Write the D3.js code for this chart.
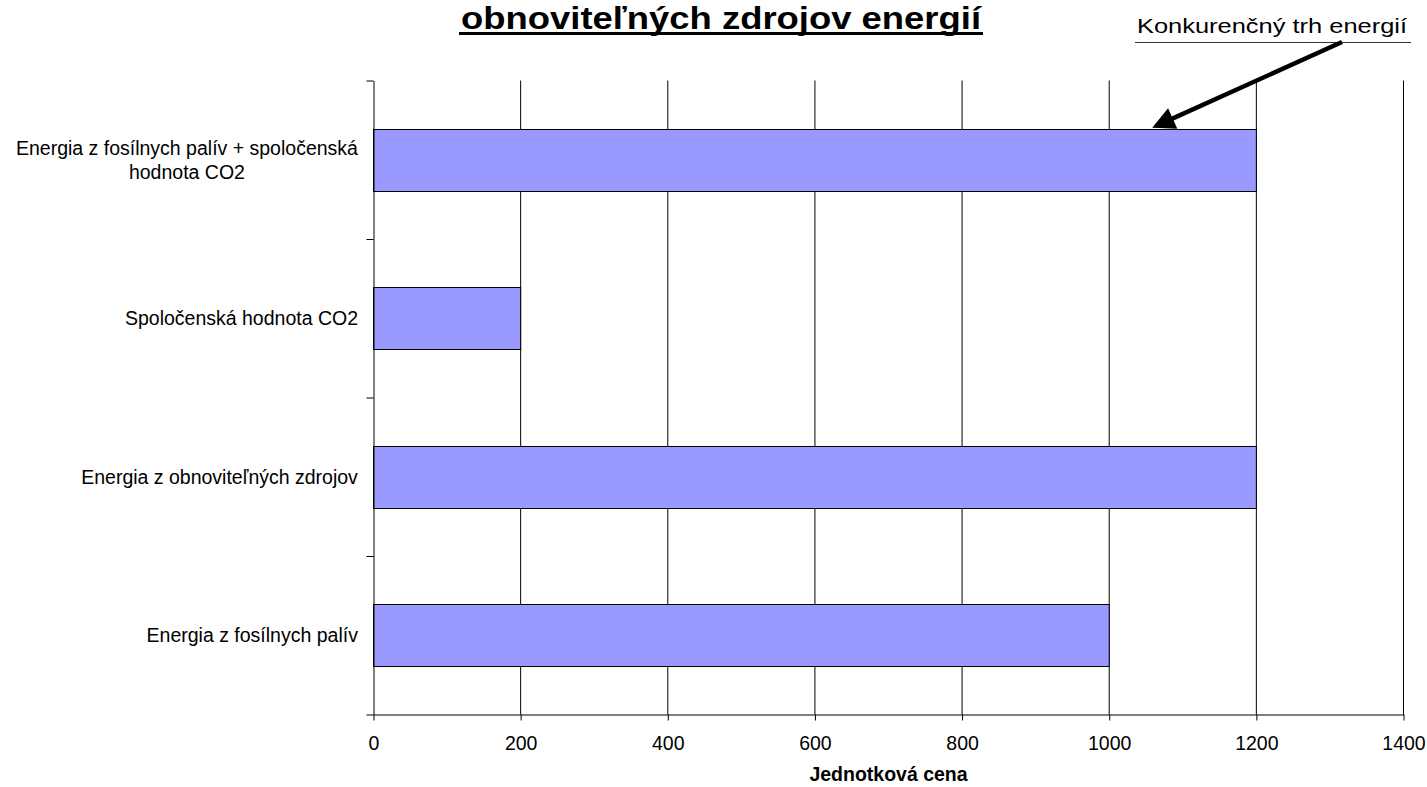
<!DOCTYPE html>
<html>
<head>
<meta charset="utf-8">
<script src="https://cdn.jsdelivr.net/npm/d3@7"></script>
<style>
  html, body { margin: 0; padding: 0; background: #fff; }
  svg { display: block; }
  text { font-family: "Liberation Sans", Arial, sans-serif; fill: #000; }
</style>
</head>
<body>
<svg id="chart" width="1427" height="787"></svg>
<script>
// Categories from top to bottom; "\n" marks a line break in the label
const categories = [
  "Energia z fosílnych palív + spoločenská\nhodnota CO2",
  "Spoločenská hodnota CO2",
  "Energia z obnoviteľných zdrojov",
  "Energia z fosílnych palív"
];
const values = [1200, 200, 1200, 1000];
const xTicks = [0, 200, 400, 600, 800, 1000, 1200, 1400];
const titleText = "obnoviteľných zdrojov energií";
const axisTitle = "Jednotková cena";
const calloutText = "Konkurenčný trh energií";
const calloutTarget = { category: 0, value: 1064 };

const svg = d3.select("#chart");
const plot = { left: 373.5, right: 1403.5, top: 80.5, bottom: 714.5 };

const x = d3.scaleLinear().domain([0, 1400]).range([plot.left, plot.right]);
const y = d3.scaleBand().domain(categories).range([plot.top, plot.bottom])
  .paddingInner(0.61).paddingOuter(0.305);
const yEdges = d3.scaleLinear().domain([0, categories.length]).range([plot.top, plot.bottom]);

// Vertical gridlines
svg.append("g").selectAll("line")
  .data(xTicks.filter(d => d > 0))
  .join("line")
  .attr("x1", d => x(d)).attr("x2", d => x(d))
  .attr("y1", plot.top).attr("y2", plot.bottom)
  .attr("stroke", "#000").attr("stroke-width", 1);

// Bars
svg.append("g").selectAll("rect")
  .data(categories.map((c, i) => ({ c, v: values[i] })))
  .join("rect")
  .attr("x", x(0))
  .attr("y", d => Math.round(y(d.c)) + 0.5)
  .attr("width", d => x(d.v) - x(0))
  .attr("height", Math.round(y.bandwidth()))
  .attr("fill", "#9999FF")
  .attr("stroke", "#000").attr("stroke-width", 1);

// X axis
const xAxis = svg.append("g")
  .attr("transform", `translate(0,${plot.bottom})`)
  .call(d3.axisBottom(x).tickValues(xTicks).tickSize(6).tickSizeOuter(0).tickFormat(d3.format("d")));
xAxis.select(".domain").attr("stroke", "#000");
xAxis.selectAll(".tick line").attr("stroke", "#000");
xAxis.selectAll(".tick text")
  .attr("y", 22)
  .style("font-family", '"Liberation Sans", Arial, sans-serif')
  .style("font-size", "19.5px")
  .attr("fill", "#000");

// Y axis: ticks at category boundaries
const yAxis = svg.append("g")
  .attr("transform", `translate(${plot.left},0)`)
  .call(d3.axisLeft(yEdges).tickValues(d3.range(categories.length + 1)).tickSize(7).tickSizeOuter(0).tickFormat(""));
yAxis.select(".domain").attr("stroke", "#000");
yAxis.selectAll(".tick line").attr("stroke", "#000");

// Category labels, right-aligned block, lines centred within the block
const labelRight = 358;
categories.forEach(c => {
  const lines = c.split("\n");
  const g = svg.append("g");
  const cy = y(c) + y.bandwidth() / 2;
  const lh = 24.5;
  const t = g.append("text")
    .attr("text-anchor", "middle")
    .style("font-size", "19.5px");
  lines.forEach((ln, i) => {
    t.append("tspan")
      .attr("x", 0)
      .attr("y", cy + 7 + (i - (lines.length - 1) / 2) * lh)
      .text(ln);
  });
  const w = t.node().getBBox().width;
  g.attr("transform", `translate(${labelRight - w / 2},0)`);
});

// Axis title
svg.append("text")
  .attr("x", (plot.left + plot.right) / 2)
  .attr("y", 781)
  .attr("text-anchor", "middle")
  .style("font-size", "19.5px")
  .style("font-weight", "bold")
  .text(axisTitle);

// Chart title (underlined)
svg.append("text")
  .attr("x", 721)
  .attr("y", 29)
  .attr("text-anchor", "middle")
  .attr("textLength", 520)
  .attr("lengthAdjust", "spacingAndGlyphs")
  .style("font-size", "32px")
  .style("font-weight", "bold")
  .text(titleText);
svg.append("rect")
  .attr("x", 721 - 262).attr("y", 32)
  .attr("width", 524).attr("height", 3)
  .attr("fill", "#000");

// Callout label with underline and arrow
svg.append("text")
  .attr("x", 1137)
  .attr("y", 33)
  .attr("textLength", 270)
  .attr("lengthAdjust", "spacingAndGlyphs")
  .style("font-size", "20px")
  .text(calloutText);
svg.append("line")
  .attr("x1", 1135).attr("x2", 1411)
  .attr("y1", 42.5).attr("y2", 42.5)
  .attr("stroke", "#333").attr("stroke-width", 1);

const defs = svg.append("defs");
defs.append("marker")
  .attr("id", "arrowhead")
  .attr("viewBox", "0 0 10 10")
  .attr("refX", 8).attr("refY", 5)
  .attr("markerWidth", 6).attr("markerHeight", 5)
  .attr("markerUnits", "strokeWidth")
  .attr("orient", "auto")
  .append("path")
  .attr("d", "M0,0 L10,5 L0,10 Z")
  .attr("fill", "#000");

const tipX = x(calloutTarget.value);
const tipY = y(categories[calloutTarget.category]) - 3;
svg.append("line")
  .attr("x1", 1342).attr("y1", 42)
  .attr("x2", tipX).attr("y2", tipY)
  .attr("stroke", "#000").attr("stroke-width", 4.5)
  .attr("marker-end", "url(#arrowhead)");
</script>
</body>
</html>
